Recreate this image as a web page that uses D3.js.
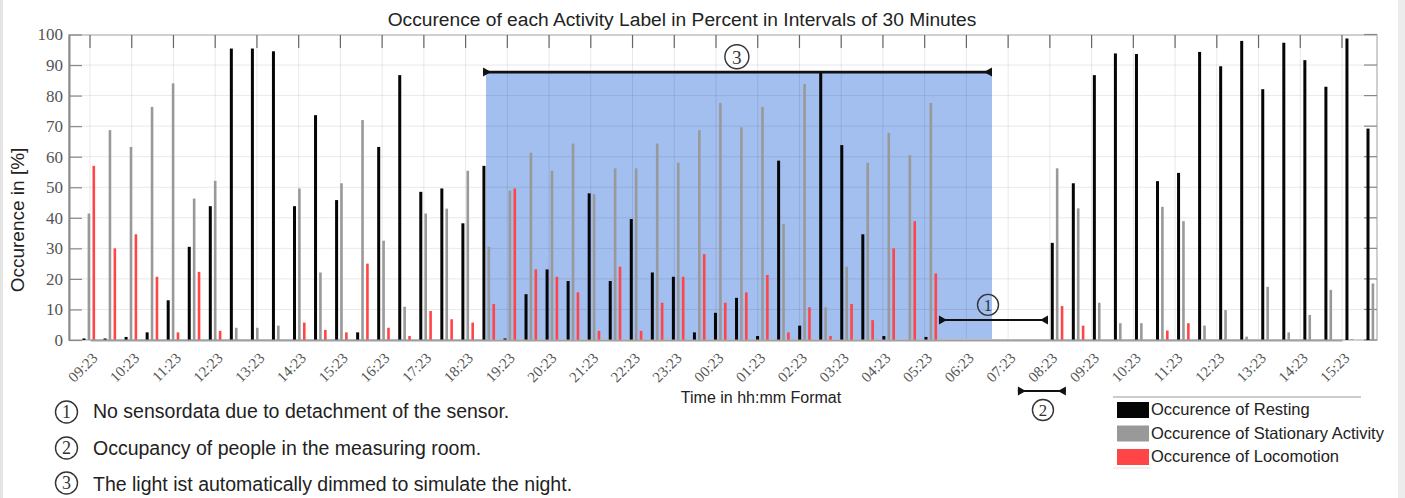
<!DOCTYPE html>
<html>
<head>
<meta charset="utf-8">
<script src="https://cdn.jsdelivr.net/npm/d3@7"></script>
<style>
  body { margin: 0; background: #fff; }
  svg { display: block; }
  text { font-family: "Liberation Sans", Arial, sans-serif; fill: #222; }
</style>
</head>
<body>
<div id="chart"></div>
<script>
// 30 minute slots, 09:23 on day one until 15:53 on day two
let slots = [
    "09:23","09:53","10:23","10:53","11:23","11:53","12:23","12:53","13:23","13:53",
    "14:23","14:53","15:23","15:53","16:23","16:53","17:23","17:53","18:23","18:53",
    "19:23","19:53","20:23","20:53","21:23","21:53","22:23","22:53","23:23","23:53",
    "00:23","00:53","01:23","01:53","02:23","02:53","03:23","03:53","04:23","04:53",
    "05:23","05:53","06:23","06:53","07:23","07:53","08:23","08:53","09:23","09:53",
    "10:23","10:53","11:23","11:53","12:23","12:53","13:23","13:53","14:23","14:53",
    "15:23","15:53"
];

// hour tick labels
let hourLabels = [
    "09:23","10:23","11:23","12:23","13:23","14:23","15:23","16:23","17:23","18:23",
    "19:23","20:23","21:23","22:23","23:23","00:23","01:23","02:23","03:23","04:23",
    "05:23","06:23","07:23","08:23","09:23","10:23","11:23","12:23","13:23","14:23",
    "15:23"
];

// occurence in percent per slot (null = no sensordata)
let resting = [
    0.5, 0.5, 1, 2.5, 13, 30.5, 43.8, 95.4, 95.4, 94.5,
    43.8, 73.6, 45.8, 2.5, 63.2, 86.7, 48.5, 49.6, 38.2, 57,
    0.5, 15, 23.1, 19.3, 48, 19.3, 39.6, 22.1, 20.7, 2.5,
    8.9, 13.8, 1.3, 58.7, 4.7, 88, 63.8, 34.6, 1.3, 0,
    1, null, null, null, null, null, 31.8, 51.3, 86.7, 93.8,
    93.6, 52, 54.7, 94.3, 89.6, 97.9, 82.1, 97.3, 91.6, 82.9,
    98.7, 69.2
];
let stationary = [
    41.4, 68.7, 63.2, 76.3, 84, 46.3, 52.1, 4, 4, 4.7,
    49.6, 22.1, 51.3, 72, 32.5, 10.9, 41.4, 43, 55.4, 30.5,
    48.9, 61.3, 55.4, 64.3, 47.7, 56.2, 56.2, 64.3, 58, 68.7,
    77.6, 69.6, 76.3, 38, 83.8, 10.7, 24, 58, 67.8, 60.5,
    77.6, null, null, null, null, null, 56.2, 43.1, 12.2, 5.5,
    5.5, 43.6, 38.9, 4.7, 9.8, 1.1, 17.4, 2.5, 8.2, 16.4,
    0.3, 18.5
];
let locomotion = [
    57, 30, 34.6, 20.7, 2.5, 22.3, 3, 0, 0, 0,
    5.7, 3.3, 2.5, 25, 4, 1.3, 9.5, 6.8, 5.7, 11.8,
    49.6, 23.1, 20.7, 15.6, 3, 24, 3, 12.2, 20.7, 28.1,
    12.2, 15.6, 21.3, 2.5, 10.7, 1.3, 11.8, 6.5, 30, 38.9,
    21.8, null, null, null, null, null, 11.1, 4.7, 0, 0,
    0, 3.1, 5.5, 0, 0, 0, 0, 0, 0, 0,
    0, 0
];

let yTicks = [0, 10, 20, 30, 40, 50, 60, 70, 80, 90, 100];

// annotations, positions in slot index / percent
let nightSpan = [18.86, 42.9];     // blue area (3)
let nightArrow = [18.72, 42.9, 87.7];
let detachArrow = [40.38, 45.56, 6.55];  // (1)
let occupancyArrow = [44.13, 46.41, -16.7]; // (2)
let markers = [
    { label: "1", slot: 42.71, value: 11.5, r: 10.5 },
    { label: "2", slot: 45.32, value: -22.9, r: 10.5 },
    { label: "3", slot: 30.78, value: 92.7, r: 12 }
];
let notes = [
    "No sensordata due to detachment of the sensor.",
    "Occupancy of people in the measuring room.",
    "The light ist automatically dimmed to simulate the night."
];
let legendItems = [
    { name: "Occurence of Resting", color: "#050505" },
    { name: "Occurence of Stationary Activity", color: "#999999" },
    { name: "Occurence of Locomotion", color: "#ff4545" }
];

let svgWidth = 1405;
let svgHeight = 498;

let plot = { left: 69, right: 1377, top: 35, bottom: 340 };

let svg = d3.select("#chart")
    .append("svg")
    .attr("width", svgWidth)
    .attr("height", svgHeight);

// scanned page edges
svg.append("rect").attr("x", 0).attr("y", 0).attr("width", 3).attr("height", svgHeight).attr("fill", "#e4e4e4");
svg.append("rect").attr("x", 1398).attr("y", 0).attr("width", 7).attr("height", svgHeight).attr("fill", "#ececec");

// scales
let xBar = d3.scaleLinear()
    .domain([0, slots.length - 1])
    .range([89, 1373]);

let xHour = d3.scalePoint()
    .domain(d3.range(hourLabels.length))
    .range([90, 1342]);

let y = d3.scaleLinear()
    .domain([0, 100])
    .range([plot.bottom, 34.5]);

let sub = d3.scalePoint()
    .domain(["resting", "stationary", "locomotion"])
    .range([-5, 4.8]);

// night area
svg.append("rect")
    .attr("x", xBar(nightSpan[0]))
    .attr("y", y(nightArrow[2]))
    .attr("width", xBar(nightSpan[1]) - xBar(nightSpan[0]))
    .attr("height", y(0) - y(nightArrow[2]))
    .attr("fill", "#a3bff0");

// grid
let grid = svg.append("g").attr("stroke", "#000").attr("stroke-opacity", 0.09);
grid.selectAll(".vgrid")
    .data(xHour.domain())
    .join("line")
    .attr("x1", d => xHour(d)).attr("x2", d => xHour(d))
    .attr("y1", plot.top).attr("y2", plot.bottom);
grid.selectAll(".hgrid")
    .data(yTicks.slice(1, -1))
    .join("line")
    .attr("x1", plot.left).attr("x2", plot.right)
    .attr("y1", d => y(d)).attr("y2", d => y(d));

// frame
svg.append("rect")
    .attr("x", plot.left).attr("y", plot.top)
    .attr("width", plot.right - plot.left).attr("height", plot.bottom - plot.top)
    .attr("fill", "none").attr("stroke", "#cfcfcf").attr("stroke-width", 2);

// top hour ticks
svg.append("g").selectAll("line")
    .data(xHour.domain())
    .join("line")
    .attr("x1", d => xHour(d)).attr("x2", d => xHour(d))
    .attr("y1", plot.top).attr("y2", plot.top + 13)
    .attr("stroke", "#666").attr("stroke-width", 1.2);

// right inward ticks
svg.append("g").selectAll("line")
    .data(yTicks)
    .join("line")
    .attr("x1", plot.right - 13).attr("x2", plot.right)
    .attr("y1", d => y(d)).attr("y2", d => y(d))
    .attr("stroke", "#888").attr("stroke-width", 1.2);

// bars
let series = [
    { key: "resting", values: resting, color: "#050505", width: 3 },
    { key: "stationary", values: stationary, color: "#999999", width: 2.6 },
    { key: "locomotion", values: locomotion, color: "#ff4545", width: 2.6 }
];

let barData = [];
series.forEach(s => {
    s.values.forEach((v, i) => {
        if (v !== null && v > 0) barData.push({ key: s.key, i: i, value: v, color: s.color, width: s.width });
    });
});

svg.append("g").selectAll("rect")
    .data(barData)
    .join("rect")
    .attr("x", d => xBar(d.i) + sub(d.key) - d.width / 2)
    .attr("y", d => y(d.value))
    .attr("width", d => d.width)
    .attr("height", d => y(0) - y(d.value))
    .attr("fill", d => d.color);

// y axis
let leftAxis = d3.axisLeft(y)
    .tickValues(yTicks)
    .tickSizeInner(-13)
    .tickSizeOuter(0)
    .tickPadding(6);

let yAxis = svg.append("g")
    .attr("transform", `translate(${plot.left}, 0)`)
    .call(leftAxis);
yAxis.select(".domain").attr("stroke", "#8a8a8a").attr("stroke-width", 2);
yAxis.selectAll(".tick line").attr("stroke", "#888").attr("stroke-width", 1.2);
yAxis.selectAll("text")
    .style("font-family", "'Liberation Serif', 'Times New Roman', serif")
    .style("font-size", "17px")
    .style("fill", "#555");

// x axis
let bottomAxis = d3.axisBottom(xHour)
    .tickFormat(i => hourLabels[i])
    .tickSize(0);

let xAxis = svg.append("g")
    .attr("transform", `translate(0, ${plot.bottom})`)
    .call(bottomAxis);
xAxis.select(".domain").attr("stroke", "#a0a0a0").attr("stroke-width", 2);
xAxis.selectAll("text")
    .attr("x", 0).attr("y", 0).attr("dy", 0)
    .attr("text-anchor", "end")
    .attr("transform", "translate(8, 19) rotate(-45)")
    .style("font-family", "'Liberation Serif', 'Times New Roman', serif")
    .style("font-size", "15px")
    .style("fill", "#555");

// titles
svg.append("text")
    .attr("x", 682).attr("y", 26)
    .attr("text-anchor", "middle")
    .style("font-size", "19.2px")
    .text("Occurence of each Activity Label in Percent in Intervals of 30 Minutes");

svg.append("text")
    .attr("transform", "translate(24, 220) rotate(-90)")
    .attr("text-anchor", "middle")
    .style("font-size", "19px")
    .text("Occurence in [%]");

svg.append("text")
    .attr("x", 761).attr("y", 403)
    .attr("text-anchor", "middle")
    .style("font-size", "16px")
    .text("Time in hh:mm Format");

// dimension arrows with inward heads
function drawArrow(x1, x2, yPos, w) {
    let g = svg.append("g");
    g.append("line")
        .attr("x1", x1).attr("x2", x2)
        .attr("y1", yPos).attr("y2", yPos)
        .attr("stroke", "#111").attr("stroke-width", w);
    g.append("path")
        .attr("d", `M${x1},${yPos - 4.5}L${x1 + 8},${yPos}L${x1},${yPos + 4.5}Z`)
        .attr("fill", "#111");
    g.append("path")
        .attr("d", `M${x2},${yPos - 4.5}L${x2 - 8},${yPos}L${x2},${yPos + 4.5}Z`)
        .attr("fill", "#111");
}

drawArrow(xBar(nightArrow[0]), xBar(nightArrow[1]), y(nightArrow[2]), 2.6);
drawArrow(xBar(detachArrow[0]), xBar(detachArrow[1]), y(detachArrow[2]), 2);
drawArrow(xBar(occupancyArrow[0]), xBar(occupancyArrow[1]), y(occupancyArrow[2]), 2);

// circled numbers
function circled(g, cx, cy, r, label, size) {
    g.append("circle")
        .attr("cx", cx).attr("cy", cy).attr("r", r)
        .attr("fill", "none").attr("stroke", "#333").attr("stroke-width", 1.4);
    g.append("text")
        .attr("x", cx).attr("y", cy)
        .attr("dy", "0.35em")
        .attr("text-anchor", "middle")
        .style("font-family", "'Liberation Serif', 'Times New Roman', serif")
        .style("font-size", size + "px")
        .style("fill", "#333")
        .text(label);
}

let markerGroup = svg.append("g");
markers.forEach(m => circled(markerGroup, xBar(m.slot), y(m.value), m.r, m.label, m.r * 1.6));

// notes at the bottom left
let noteGroup = svg.append("g");
let noteCircleY = [412, 448, 483];
let noteTextY = [418, 455, 490.5];
notes.forEach((n, i) => {
    circled(noteGroup, 66.5, noteCircleY[i], 11, String(i + 1), 18);
    noteGroup.append("text")
        .attr("x", 93).attr("y", noteTextY[i])
        .style("font-size", "19.5px")
        .text(n);
});

// legend
let legend = svg.append("g").attr("transform", "translate(1113, 397)");
legend.append("line")
    .attr("x1", 0).attr("x2", 248)
    .attr("stroke", "#9a9a9a").attr("stroke-width", 1.2);
legend.append("line")
    .attr("x1", 0).attr("x2", 37).attr("y1", 71).attr("y2", 71)
    .attr("stroke", "#e2e2e2").attr("stroke-width", 1.2);
let rows = legend.selectAll(".row")
    .data(legendItems)
    .join("g")
    .attr("transform", (d, i) => `translate(0, ${5 + i * 23.5})`);
rows.append("rect")
    .attr("x", 4).attr("y", 0)
    .attr("width", 32).attr("height", 16)
    .attr("fill", d => d.color);
rows.append("text")
    .attr("x", 38).attr("y", 13)
    .style("font-size", "16.5px")
    .text(d => d.name);
</script>
</body>
</html>
